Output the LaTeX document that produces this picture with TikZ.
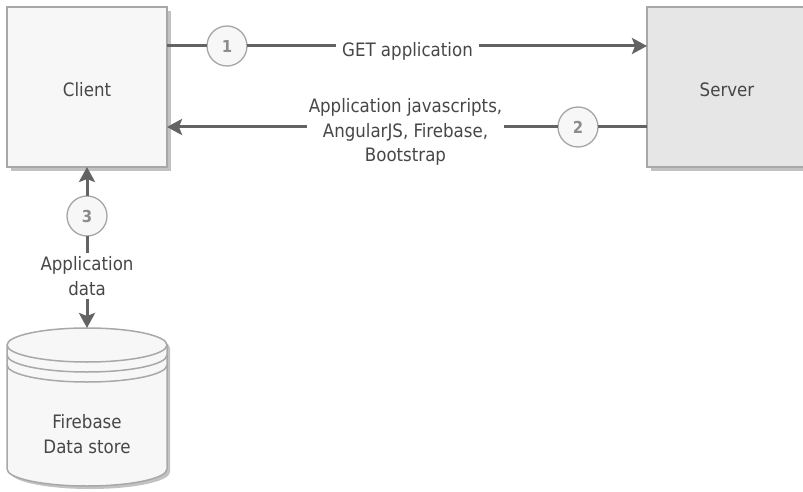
\documentclass[tikz,border=0pt]{standalone}
\usepackage{fontspec}
\setmainfont{DejaVu Sans Condensed}
\usetikzlibrary{arrows.meta,shadows}
\definecolor{linec}{HTML}{636363}
\definecolor{textc}{HTML}{474747}
\definecolor{borderc}{HTML}{A8A8A8}
\definecolor{clientfill}{HTML}{F7F7F7}
\definecolor{serverfill}{HTML}{E6E6E6}
\definecolor{shadowc}{HTML}{C2C2C2}
\definecolor{numc}{HTML}{8C8C8C}
\definecolor{numborder}{HTML}{A6A6A6}
\definecolor{numfill}{HTML}{F7F7F7}
\tikzset{
  box/.style={draw=borderc, line width=1.5pt, minimum width=160pt, minimum height=160pt,
    inner sep=0pt, outer sep=0pt, text=textc, font=\fontsize{18.5}{24}\selectfont,
    text height=20pt, text depth=0pt,
    drop shadow={shadow xshift=4pt, shadow yshift=-4pt, fill=shadowc, opacity=1}},
  num/.style={circle, draw=numborder, fill=numfill, line width=1.3pt, minimum size=40pt,
    inner sep=0pt, outer sep=0pt, text=numc, font=\bfseries\fontsize{16.5}{16.5}\selectfont},
  lbl/.style={text=textc, font=\fontsize{18.5}{24.5}\selectfont, align=center,
    inner sep=4pt, outer sep=0pt},
  conn/.style={draw=linec, line width=3pt},
  arr/.style={conn, -{Stealth[length=15pt, width=16pt, inset=3pt]}},
}
\begin{document}
\begin{tikzpicture}[x=1pt, y=1pt]
\useasboundingbox (0,0) rectangle (803,-492);
% boxes
\node[box, fill=clientfill] (client) at (87,-87) {Client};
\node[box, fill=serverfill] (server) at (727,-87) {Server};
% database cylinder
\fill[shadowc] (10,-348) -- (10,-472) arc[start angle=180, end angle=360, x radius=80, y radius=17]
  -- (170,-348) arc[start angle=0, end angle=180, x radius=80, y radius=17] -- cycle;
\draw[borderc, line width=1.5pt, fill=clientfill] (7,-345) -- (7,-469)
  arc[start angle=180, end angle=360, x radius=80, y radius=17]
  -- (167,-345) arc[start angle=0, end angle=180, x radius=80, y radius=17] -- cycle;
\draw[borderc, line width=1.5pt] (7,-345) arc[start angle=180, end angle=360, x radius=80, y radius=17];
\draw[borderc, line width=1.5pt] (7,-355) arc[start angle=180, end angle=360, x radius=80, y radius=17];
\draw[borderc, line width=1.5pt] (7,-365) arc[start angle=180, end angle=360, x radius=80, y radius=17];
\node[inner sep=0pt, outer sep=0pt, minimum width=160pt, minimum height=159pt] (db) at (87,-407.5) {};
\node[lbl] (dbtext) at (87,-434) {Firebase\\Data store};
% numbers
\node[num] (c1) at (227,-46) {1};
\node[num] (c2) at (578,-127) {2};
\node[num] (c3) at (87,-216) {3};
% labels
\node[lbl, inner sep=6pt] (get) at (407.5,-51.5) {GET application};
\node[lbl, inner sep=2pt] (jsl) at (405.5,-132) {Application javascripts,\\AngularJS, Firebase,\\Bootstrap};
\node[lbl, inner sep=4pt] (appdata) at (87,-276) {Application\\data};
% connectors
\draw[conn] (client.east |- c1) -- (c1);
\draw[conn] (c1) -- (c1 -| get.west);
\draw[arr] (get.east |- c1) -- (server.west |- c1);
\draw[conn] (server.west |- c2) -- (c2);
\draw[conn] (c2) -- (c2 -| jsl.east);
\draw[arr] (jsl.west |- c2) -- (client.east |- c2);
\draw[arr] (c3) -- (client.south);
\draw[conn] (c3) -- (appdata);
\draw[arr] (appdata) -- (db.north);
\end{tikzpicture}
\end{document}
